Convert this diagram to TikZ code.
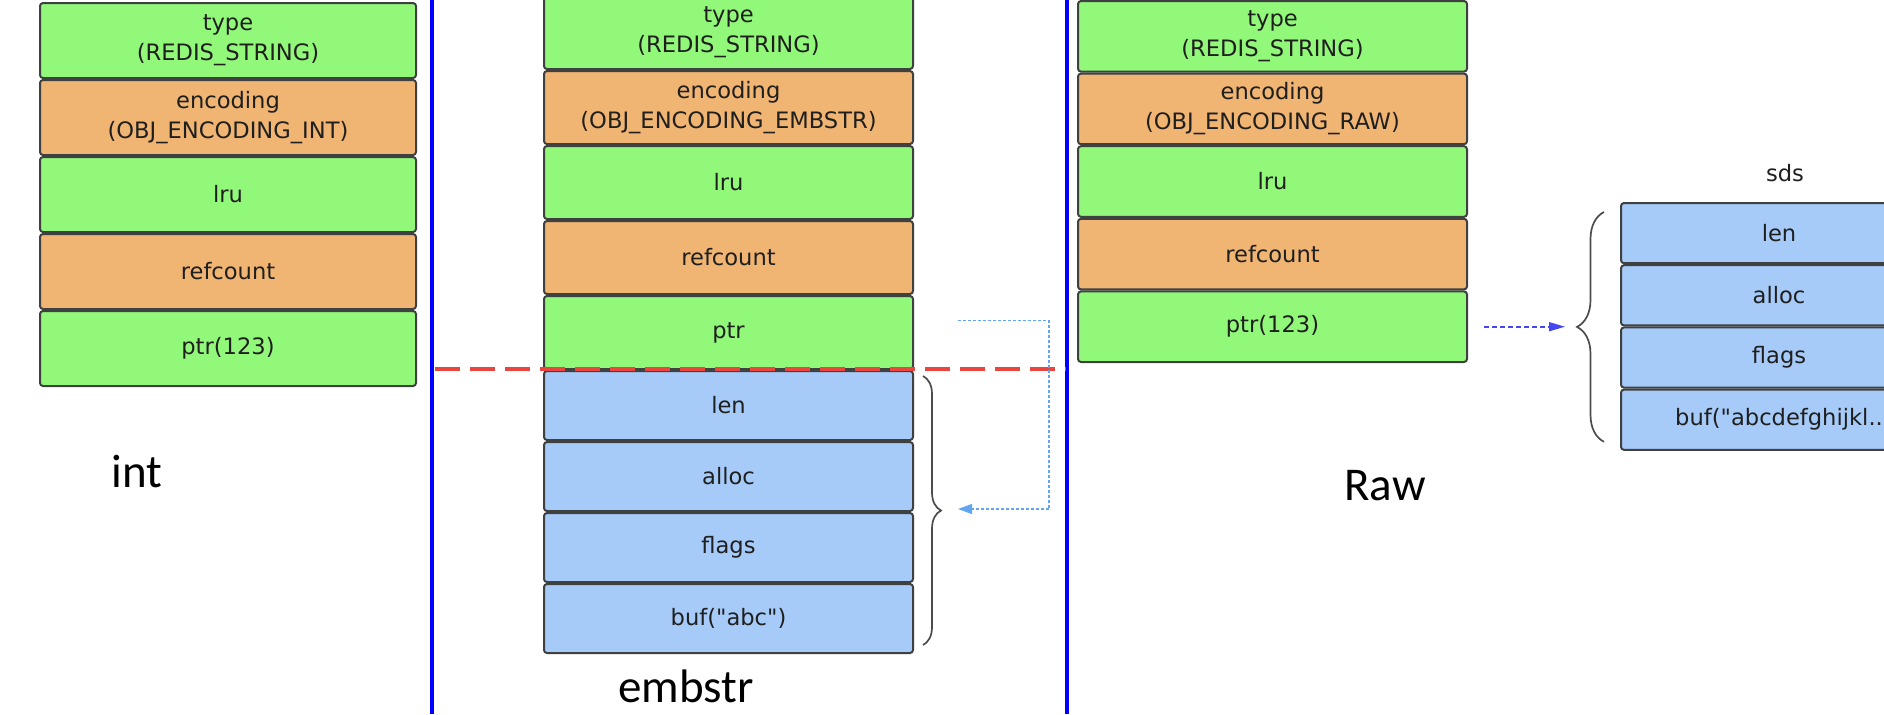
\documentclass[tikz,border=0pt]{standalone}
\usepackage{fontspec}
\setmainfont{DejaVu Sans}[Ligatures=TeXOff]
\newfontfamily\labelfont{Carlito}
\usetikzlibrary{positioning,arrows.meta,decorations.pathreplacing}
\definecolor{fieldgreen}{HTML}{92F87A}
\definecolor{fieldorange}{HTML}{F0B473}
\definecolor{fieldblue}{HTML}{A6CBF8}
\definecolor{rimgray}{HTML}{3F4140}
\definecolor{splitred}{HTML}{E8463E}
\definecolor{linkblue}{HTML}{62A6F2}
\definecolor{rawblue}{HTML}{4747F2}
\begin{document}
\begin{tikzpicture}[x=0.5pt,y=-0.5pt,
  field/.style={draw=rimgray,line width=1pt,rounded corners=1.5pt,align=center,inner sep=0pt,
    text=black!88,font=\fontsize{11.3}{15}\selectfont},
  gf/.style={field,fill=fieldgreen},
  of/.style={field,fill=fieldorange},
  bf/.style={field,fill=fieldblue},
  introw/.style={minimum width=188pt,minimum height=37.5pt},
  emrow/.style={minimum width=184.5pt,minimum height=36.5pt},
  emsds/.style={minimum width=184.5pt,minimum height=34.5pt},
  rawrow/.style={minimum width=194.5pt,minimum height=35.3pt},
  sdsrow/.style={minimum width=158pt,minimum height=30.1pt},
  caption/.style={font=\labelfont\fontsize{23.5}{28}\selectfont,anchor=base},
  divider/.style={draw=blue,line width=2pt},
  splitline/.style={draw=splitred,line width=2pt,dash pattern=on 12.5pt off 5pt},
  sbrace/.style={draw=black!70,line width=0.85pt,decorate},
  elink/.style={draw=linkblue,line width=0.6pt,dash pattern=on 1.5pt off 1pt,
    -{Triangle[length=7pt,width=5pt,fill=linkblue]}},
  rlink/.style={draw=rawblue,line width=0.8pt,dash pattern=on 2.5pt off 1.5pt,
    -{Triangle[length=8pt,width=4.5pt,fill=rawblue]}}]
\path[use as bounding box,clip] (0,0) rectangle (1884,714);

\node[gf,introw,anchor=north] (itype) at (228,2) {type\\(REDIS\_STRING)};
\node[of,introw,below=0pt of itype] (ienc) {encoding\\(OBJ\_ENCODING\_INT)};
\node[gf,introw,below=0pt of ienc] (ilru) {lru};
\node[of,introw,below=0pt of ilru] (iref) {refcount};
\node[gf,introw,below=0pt of iref] (iptr) {ptr(123)};
\node[caption] (intcap) at (137,487) {int};

\node[gf,emrow,anchor=north] (etype) at (728.5,-5) {type\\(REDIS\_STRING)};
\node[of,emrow,below=0pt of etype] (eenc) {encoding\\(OBJ\_ENCODING\_EMBSTR)};
\node[gf,emrow,below=0pt of eenc] (elru) {lru};
\node[of,emrow,below=0pt of elru] (eref) {refcount};
\node[gf,emrow,below=0pt of eref] (eptr) {ptr};
\node[bf,emsds,below=0pt of eptr] (elen) {len};
\node[bf,emsds,below=0pt of elen] (ealloc) {alloc};
\node[bf,emsds,below=0pt of ealloc] (eflags) {flags};
\node[bf,emsds,below=0pt of eflags] (ebuf) {buf("abc")};
\node[caption] (embcap) at (686,702) {embstr};

\node[gf,rawrow,anchor=north] (rtype) at (1272.5,0) {type\\(REDIS\_STRING)};
\node[of,rawrow,below=0pt of rtype] (renc) {encoding\\(OBJ\_ENCODING\_RAW)};
\node[gf,rawrow,below=0pt of renc] (rlru) {lru};
\node[of,rawrow,below=0pt of rlru] (rref) {refcount};
\node[gf,rawrow,below=0pt of rref] (rptr) {ptr(123)};
\node[caption] (rawcap) at (1385,500) {Raw};

\node[field,draw=none,fill=none] (sdstitle) at (1785,173) {sds};
\node[bf,sdsrow,anchor=north] (slen) at (1779,202) {len};
\node[bf,sdsrow,below=0pt of slen] (salloc) {alloc};
\node[bf,sdsrow,below=0pt of salloc] (sflags) {flags};
\node[bf,sdsrow,below=0pt of sflags] (sbuf) {buf("abcdefghijkl..};

\draw[divider] (432,0) -- (432,714);
\draw[divider] (1067,0) -- (1067,714);
\draw[splitline] (435,369) -- (1066,369);

\draw[sbrace,decoration={brace,amplitude=9pt}]
  ([xshift=4.5pt,yshift=-3pt]elen.north east) -- ([xshift=4.5pt,yshift=4.5pt]ebuf.south east);
\draw[sbrace,decoration={brace,amplitude=13.5pt}]
  ([xshift=-8pt,yshift=4.5pt]sbuf.south west) -- ([xshift=-8pt,yshift=-5pt]slen.north west);

\coordinate (eptrout) at ([xshift=22pt,yshift=6pt]eptr.east);
\coordinate (ebrtip) at ([xshift=22pt,yshift=1.5pt]ealloc.south east);
\draw[elink] (eptrout) -- ++(91,0) |- (ebrtip);
\coordinate (rptrout) at ([xshift=8pt]rptr.east);
\coordinate (sbrtip) at ([xshift=-27.5pt,yshift=-1.5pt]sflags.north west);
\draw[rlink] (rptrout) -- (rptrout -| sbrtip);
\end{tikzpicture}
\end{document}
